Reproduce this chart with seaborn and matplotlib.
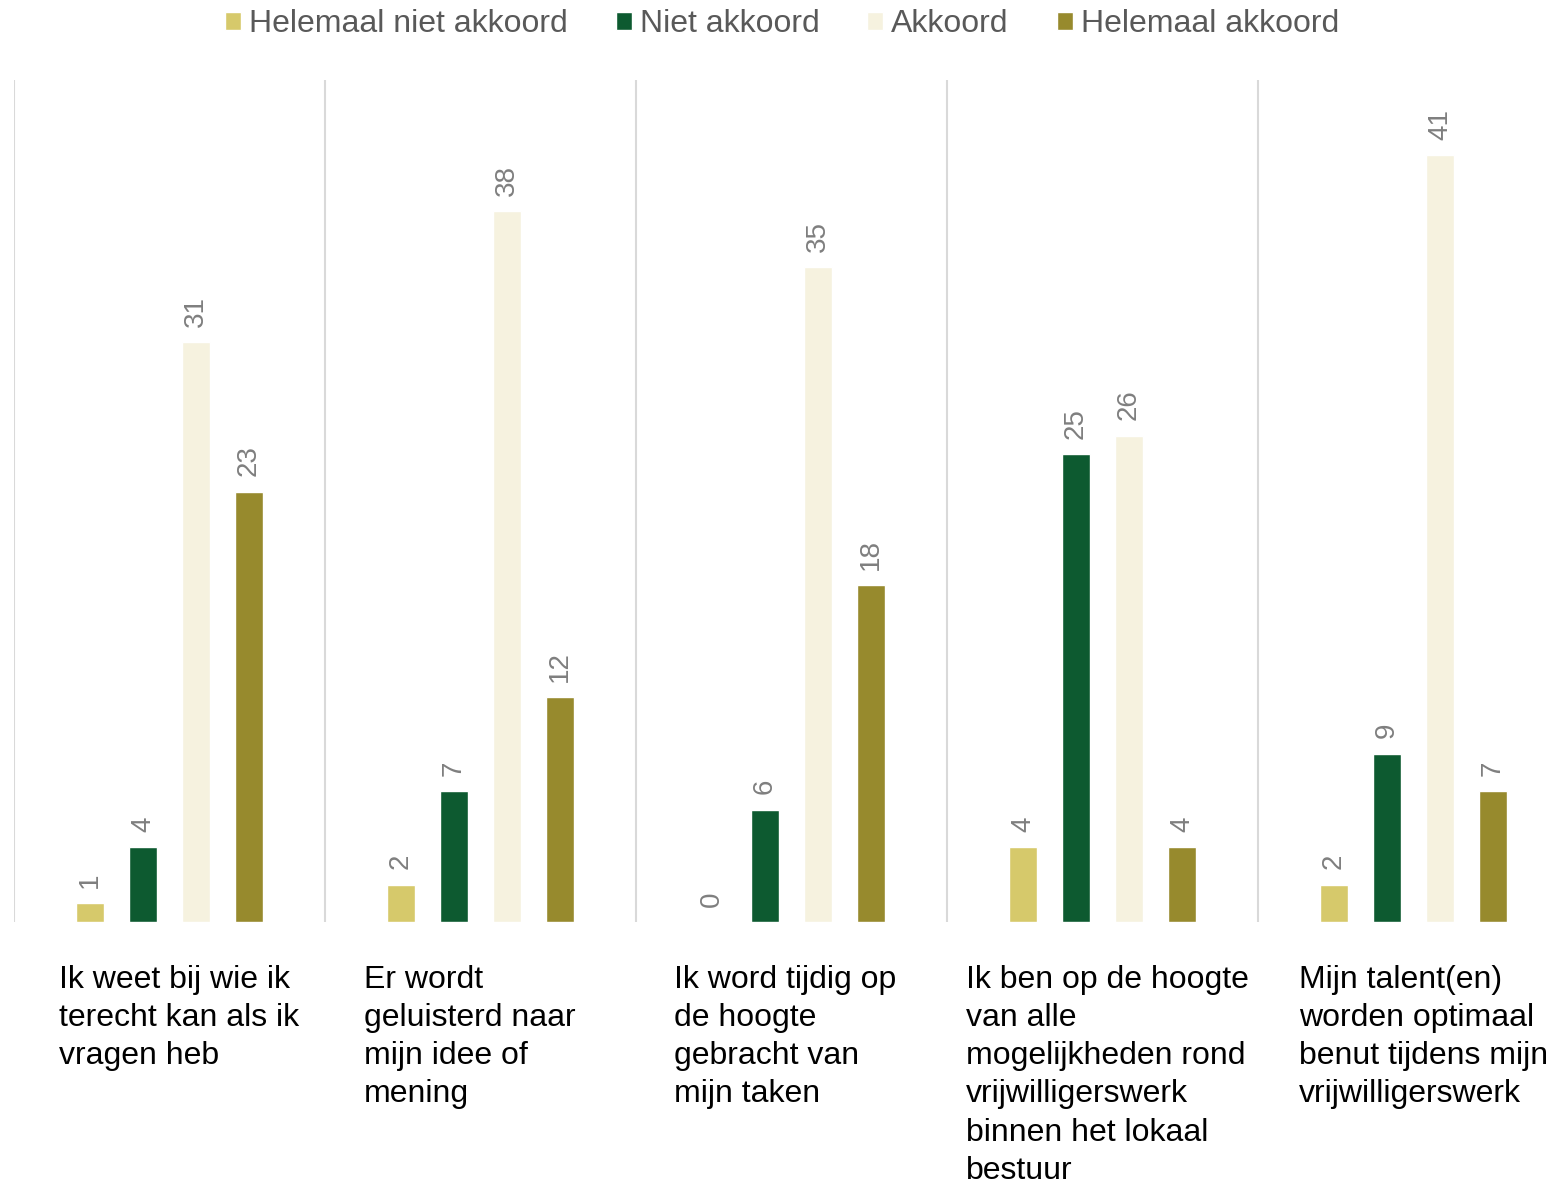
import matplotlib
matplotlib.use("Agg")
import matplotlib.pyplot as plt
import seaborn as sns
import pandas as pd

# Data
vragen = [
    "Ik weet bij wie ik\nterecht kan als ik\nvragen heb",
    "Er wordt\ngeluisterd naar\nmijn idee of\nmening",
    "Ik word tijdig op\nde hoogte\ngebracht van\nmijn taken",
    "Ik ben op de hoogte\nvan alle\nmogelijkheden rond\nvrijwilligerswerk\nbinnen het lokaal\nbestuur",
    "Mijn talent(en)\nworden optimaal\nbenut tijdens mijn\nvrijwilligerswerk",
]
antwoorden = ["Helemaal niet akkoord", "Niet akkoord", "Akkoord", "Helemaal akkoord"]
helemaal_niet = [1, 2, 0, 4, 2]
niet_akkoord = [4, 7, 6, 25, 9]
akkoord = [31, 38, 35, 26, 41]
helemaal_akkoord = [23, 12, 18, 4, 7]
kleuren = ["#D6C96B", "#0D5A30", "#F6F2DF", "#978A2D"]

# kleine verschuiving van de labelblokken (in categorie-eenheden)
label_dx = [0.032, -0.035, -0.019, 0.016, 0.032]

rows = []
for antw, waarden in zip(antwoorden, [helemaal_niet, niet_akkoord, akkoord, helemaal_akkoord]):
    for i, v in enumerate(waarden):
        rows.append({"vraag": i, "antwoord": antw, "aantal": v})
df = pd.DataFrame(rows)

sns.set_style("white")
plt.rcParams["font.family"] = ["Liberation Sans", "DejaVu Sans"]

fig = plt.figure(figsize=(15.58, 11.82), dpi=100)
W, H = 1558, 1182
ax = fig.add_axes([14 / W, 260 / H, 1555 / W, 842 / H])

sns.barplot(data=df, x="vraag", y="aantal", hue="antwoord", hue_order=antwoorden,
            palette=kleuren, width=0.682, gap=0.47, ax=ax, saturation=1,
            errorbar=None, order=range(len(vragen)))

ax.set_xlim(-0.5, len(vragen) - 0.5)
ax.set_ylim(0, 45)
for i in range(len(vragen) + 1):
    ax.axvline(i - 0.5, color="#D9D9D9", lw=1.5, zorder=0)

for c in ax.containers:
    ax.bar_label(c, rotation=90, padding=11, fontsize=20, color="#7F7F7F")

ax.set_xticks([])
ax.set_yticks([])
ax.set_xlabel("")
ax.set_ylabel("")
for s in ax.spines.values():
    s.set_visible(False)

trans = matplotlib.transforms.blended_transform_factory(ax.transData, ax.transAxes)
for i, tekst in enumerate(vragen):
    ax.text(i + label_dx[i], -0.051, tekst, transform=trans, ha="center", va="top",
            multialignment="left", fontsize=23, color="#000000", linespacing=1.355)

sns.move_legend(ax, "upper center", bbox_to_anchor=(0.502, 1.003), bbox_transform=fig.transFigure,
                ncol=4, frameon=False, title=None, fontsize=23, handlelength=0.5,
                handleheight=0.5, handletextpad=0.25, columnspacing=1.5, borderaxespad=0.0)
for t in ax.get_legend().get_texts():
    t.set_color("#595959")

fig.savefig("out.png", dpi=100)
